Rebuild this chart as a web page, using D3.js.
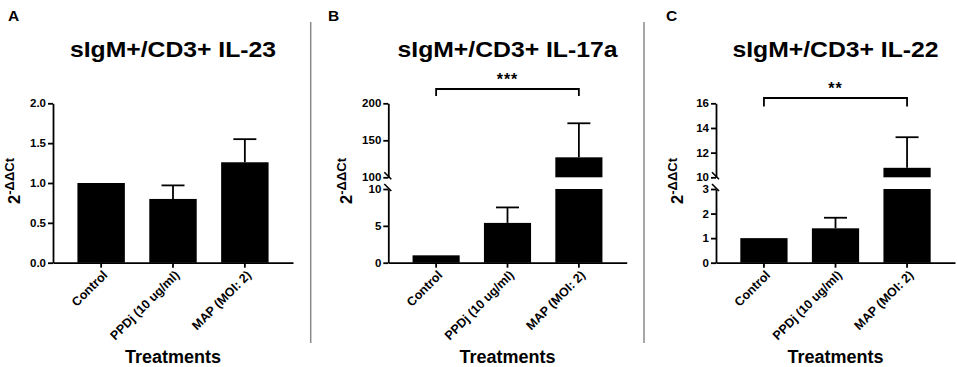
<!DOCTYPE html>
<html><head><meta charset="utf-8">
<script src="https://cdn.jsdelivr.net/npm/d3@7"></script>
<style>
body{margin:0;background:#fff;}
svg{display:block;font-family:"Liberation Sans",Arial,Helvetica,sans-serif;font-weight:bold;}
</style></head>
<body><svg id="c" width="957" height="367"></svg>
<script>
// ---- data ----
const categories = ["Control", "PPDj (10 ug/ml)", "MAP (MOI: 2)"];
const titles = ["sIgM+/CD3+ IL-23", "sIgM+/CD3+ IL-17a", "sIgM+/CD3+ IL-22"];
const panelLetters = ["A", "B", "C"];
const il23Mean = [1.0, 0.80, 1.26];
const il23Sem = [0, 0.17, 0.29];
const il17Mean = [1.0, 5.4, 127];
const il17Sem = [0, 2.1, 46];
const il22Mean = [1.0, 1.4, 10.77];
const il22Sem = [0, 0.43, 2.48];
const il23Ticks = [0, 0.5, 1.0, 1.5, 2.0];
const il17LowTicks = [0, 5, 10];
const il17HighTicks = [100, 150, 200];
const il22LowTicks = [0, 1, 2, 3];
const il22HighTicks = [10, 12, 14, 16];
const significance = [null, "***", "**"];

// ---- layout ----
const svg = d3.select("#c");
const yBottom = 262.7, yTop = 103.3, breakLow = 189, breakHigh = 177.3;

const panels = [
  {x0: 53, x1: 293, mean: il23Mean, sem: il23Sem, letterX: 8, ylabX: 19.5,
   segs: [{domain: [0, 2.0], range: [yBottom, yTop], ticks: il23Ticks, fmt: d3.format(".1f")}]},
  {x0: 388.3, x1: 626.7, mean: il17Mean, sem: il17Sem, letterX: 328, ylabX: 352,
   segs: [{domain: [0, 10], range: [yBottom, breakLow], ticks: il17LowTicks, fmt: d3.format("d")},
          {domain: [100, 200], range: [breakHigh, yTop], ticks: il17HighTicks, fmt: d3.format("d")}],
   bracketY: 89, bracketLeg: 7},
  {x0: 716, x1: 955, mean: il22Mean, sem: il22Sem, letterX: 666, ylabX: 683,
   segs: [{domain: [0, 3], range: [yBottom, breakLow], ticks: il22LowTicks, fmt: d3.format("d")},
          {domain: [10, 16], range: [breakHigh, yTop], ticks: il22HighTicks, fmt: d3.format("d")}],
   bracketY: 98, bracketLeg: 8.5}
];

// separators
[310.7, 644].forEach(x => svg.append("line").attr("x1", x).attr("x2", x).attr("y1", 22).attr("y2", 343)
  .attr("stroke", "#8a8a8a").attr("stroke-width", 1.5));

panels.forEach((p, i) => {
  const g = svg.append("g");
  const cx = (p.x0 + p.x1) / 2;
  const xs = d3.scaleBand().domain(categories).range([p.x0, p.x1]).paddingInner(0.34).paddingOuter(0.34);
  p.segs.forEach(s => s.scale = d3.scaleLinear().domain(s.domain).range(s.range));
  const segFor = v => p.segs.find((s, k) => v <= s.domain[1] || k === p.segs.length - 1);

  // panel letter & title
  g.append("text").attr("x", p.letterX).attr("y", 21).attr("font-size", 15.5).text(panelLetters[i]);
  g.append("text").attr("transform", `translate(${cx},57) scale(1.1,1)`).attr("text-anchor", "middle")
    .attr("font-size", 22.5).text(titles[i]);

  // bars
  categories.forEach((c, j) => {
    const v = p.mean[j];
    p.segs.forEach(s => {
      if (v <= s.domain[0]) return;
      const top = s.scale(Math.min(v, s.domain[1]));
      const bot = s.scale(s.domain[0]);
      g.append("rect").attr("x", xs(c)).attr("width", xs.bandwidth()).attr("y", top).attr("height", bot - top).attr("fill", "#000");
    });
    const e = v + p.sem[j];
    if (p.sem[j] > 0) {
      const xc = xs(c) + xs.bandwidth() / 2;
      const y1 = segFor(v).scale(v), y2 = segFor(e).scale(e);
      g.append("line").attr("x1", xc).attr("x2", xc).attr("y1", y1).attr("y2", y2).attr("stroke", "#000").attr("stroke-width", 1.8);
      g.append("line").attr("x1", xc - 11.5).attr("x2", xc + 11.5).attr("y1", y2).attr("y2", y2).attr("stroke", "#000").attr("stroke-width", 1.8);
    }
  });

  // y axis segments
  p.segs.forEach((s, k) => {
    const ax = g.append("g").attr("transform", `translate(${p.x0},0)`)
      .call(d3.axisLeft(s.scale).tickValues(s.ticks).tickFormat(s.fmt).tickSize(5).tickSizeOuter(0).tickPadding(2));
    ax.selectAll("path,line").attr("stroke", "#000").attr("stroke-width", 1.8);
    ax.selectAll("text").attr("font-size", 11.5).attr("font-weight", "bold").attr("fill", "#000").attr("font-family", null);
  });
  if (p.segs.length > 1) {
    [breakLow, breakHigh].forEach(yb => {
      g.append("line").attr("x1", p.x0 - 4).attr("x2", p.x0 + 3).attr("y1", yb - 5).attr("y2", yb + 2)
        .attr("stroke", "#000").attr("stroke-width", 1.6);
    });
  }

  // x axis
  const xa = g.append("g").attr("transform", `translate(0,${yBottom})`)
    .call(d3.axisBottom(xs).tickSize(5).tickSizeOuter(0).tickPadding(3));
  xa.selectAll("path,line").attr("stroke", "#000").attr("stroke-width", 1.8);
  xa.selectAll("text").attr("font-size", 12.5).attr("font-weight", "bold").attr("fill", "#000").attr("font-family", null)
    .attr("text-anchor", "end").attr("dy", "0.35em")
    .attr("transform", "translate(4,10) rotate(-45)").attr("y", 0).attr("x", 0);

  g.append("text").attr("x", cx).attr("y", 363).attr("text-anchor", "middle").attr("font-size", 18).text("Treatments");

  // y label
  const yl = g.append("text").attr("transform", `translate(${p.ylabX},181) rotate(-90)`).attr("text-anchor", "middle");
  yl.append("tspan").attr("font-size", 16.5).text("2");
  yl.append("tspan").attr("font-size", 13).attr("dy", -6).text("-ΔΔCt");

  // significance bracket
  if (significance[i]) {
    const xa0 = xs(categories[0]) + xs.bandwidth() / 2, xa1 = xs(categories[2]) + xs.bandwidth() / 2;
    const by = p.bracketY, leg = p.bracketLeg;
    g.append("path").attr("d", `M${xa0},${by + leg}V${by}H${xa1}V${by + leg}`)
      .attr("fill", "none").attr("stroke", "#000").attr("stroke-width", 1.8);
    g.append("text").attr("x", (xa0 + xa1) / 2).attr("y", by - 4).attr("text-anchor", "middle")
      .attr("font-size", 16).attr("letter-spacing", 1).text(significance[i]);
  }
});
</script></body></html>
